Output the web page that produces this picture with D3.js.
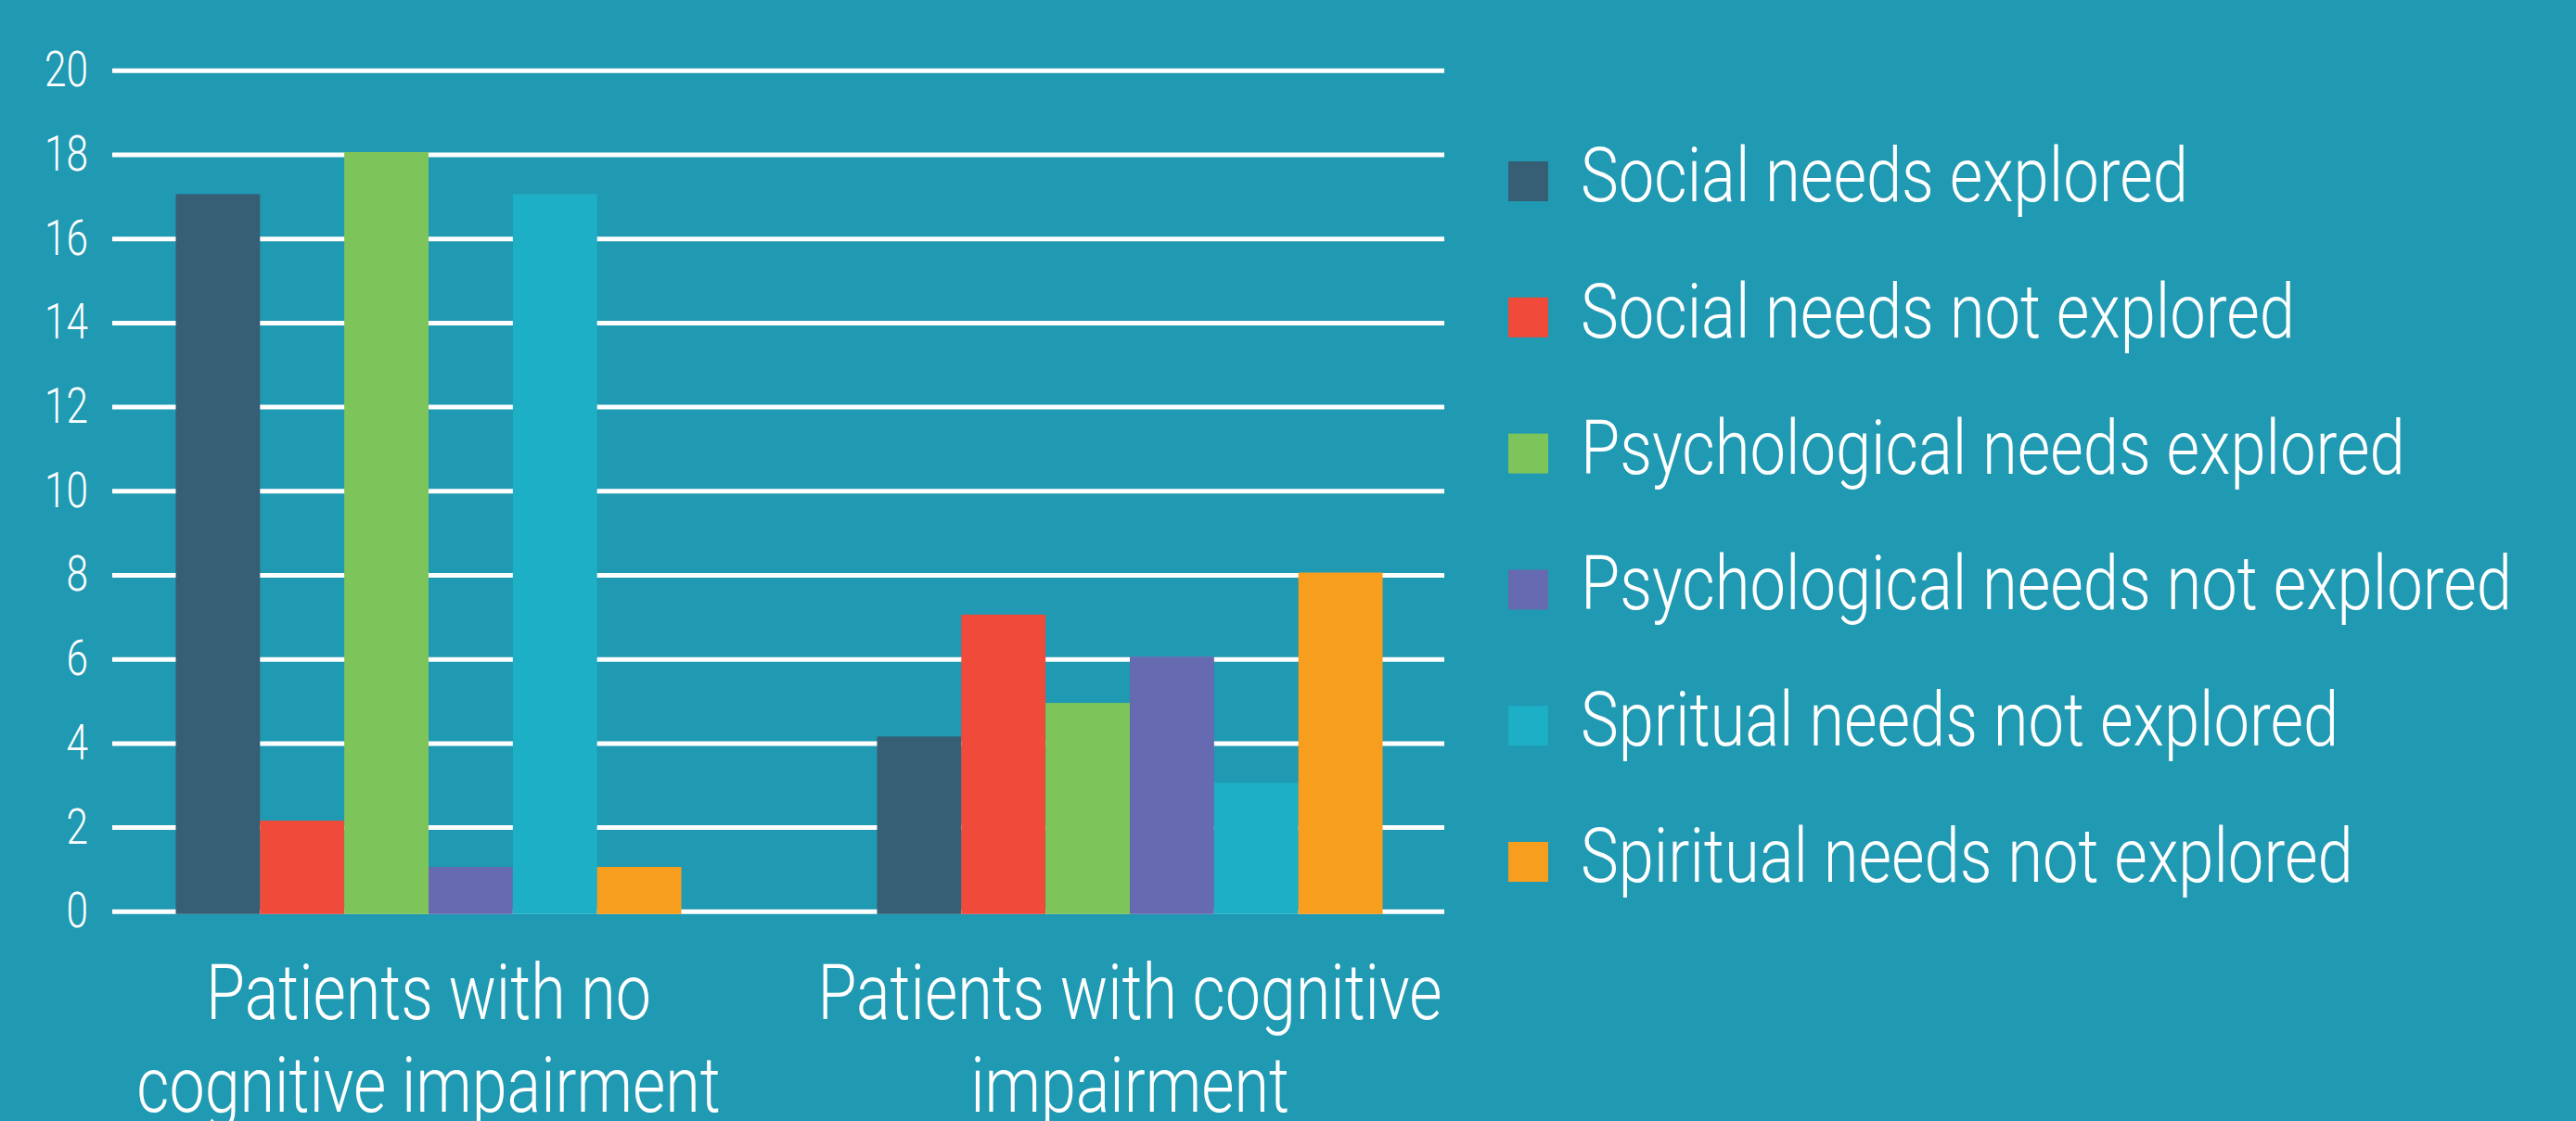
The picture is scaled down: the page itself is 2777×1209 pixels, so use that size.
<!DOCTYPE html>
<html>
<head>
<meta charset="utf-8">
<script src="https://cdn.jsdelivr.net/npm/d3@7"></script>
<style>
    html, body { margin: 0; padding: 0; background: #2099b2; }
    svg { display: block; }
    text { font-family: Roboto, "Liberation Sans", Arial, sans-serif; font-weight: 300; fill: #ffffff; }
</style>
</head>
<body>
<div id="chart"></div>
<script>
const categories = ["Patients with no cognitive impairment", "Patients with cognitive impairment"];
const categoryLines = [["Patients with no", "cognitive impairment"], ["Patients with cognitive", "impairment"]];
const seriesNames = [
    "Social needs explored",
    "Social needs not explored",
    "Psychological needs explored",
    "Psychological needs not explored",
    "Spritual needs not explored",
    "Spiritual needs not explored"
];
const seriesColors = ["#365f75", "#f04a3a", "#7dc45a", "#666ab0", "#1dafc6", "#f79e1f"];
const noImpairmentValues = [17, 2.1, 18, 1, 17, 1];
const withImpairmentValues = [4.1, 7, 4.9, 6, 3, 8];
const yTicks = [0, 2, 4, 6, 8, 10, 12, 14, 16, 18, 20];

// the original uses a light condensed face; squeeze what we have to the same widths
function squeeze(svg, sample, size, targetWidth) {
    var probe = svg.append("text").style("font-size", size + "px").text(sample);
    var len = probe.node().getComputedTextLength();
    probe.remove();
    return len > 0 ? targetWidth / len : 1;
}

function init() {
    var w = 2777;
    var h = 1209;

    var rows = [noImpairmentValues, withImpairmentValues];

    var svg = d3.select("#chart").append("svg")
        .attr("width", w)
        .attr("height", h);

    svg.append("rect")
        .attr("width", w)
        .attr("height", h)
        .attr("fill", "#2099b2");

    var tickScale = squeeze(svg, "20", 53, 47);
    var labelScale = squeeze(svg, "Patients with no", 83, 480);
    var legendScale = squeeze(svg, "Social needs explored", 81, 655);

    var y = d3.scaleLinear()
        .domain([0, 20])
        .range([982.8, 75.8]);

    var x0 = d3.scaleBand()
        .domain(categories)
        .range([84, 1596])
        .paddingInner(0.279)
        .paddingOuter(0.1395);

    var x1 = d3.scaleBand()
        .domain(seriesNames)
        .range([0, x0.bandwidth()]);

    var color = d3.scaleOrdinal()
        .domain(seriesNames)
        .range(seriesColors);

    // gridlines + tick labels
    var gridLeft = 121, gridRight = 1557;
    var yAxis = svg.append("g")
        .attr("class", "y-axis")
        .attr("transform", `translate(${gridLeft},0)`)
        .call(d3.axisLeft(y).tickValues(yTicks).tickSize(-(gridRight - gridLeft)).tickPadding(26));

    yAxis.select(".domain").remove();
    yAxis.selectAll(".tick line")
        .attr("stroke", "#ffffff")
        .attr("stroke-width", 5);
    yAxis.selectAll(".tick text")
        .style("font-family", null)
        .attr("font-family", null)
        .style("font-size", "53px")
        .attr("fill", "#ffffff")
        .attr("x", -26 / tickScale)
        .attr("transform", `scale(${tickScale},1)`);

    // bars
    var groups = svg.append("g")
        .selectAll("g")
        .data(categories)
        .join("g")
        .attr("transform", d => `translate(${x0(d)},0)`);

    groups.selectAll("rect")
        .data((d, i) => rows[i].map((v, j) => ({ key: seriesNames[j], value: v })))
        .join("rect")
        .attr("x", d => x1(d.key))
        .attr("width", x1.bandwidth())
        .attr("y", d => y(d.value) - 2.5)
        .attr("height", d => y(0) - y(d.value) + 5.5)
        .attr("fill", d => color(d.key));

    // category labels
    var xAxis = svg.append("g")
        .attr("class", "x-axis")
        .attr("transform", `translate(0,${y(0)})`)
        .attr("font-family", null)
        .call(d3.axisBottom(x0).tickSize(0));

    xAxis.select(".domain").remove();
    xAxis.attr("font-family", null).attr("font-size", null);
    xAxis.selectAll(".tick text").each(function (d, i) {
        var t = d3.select(this);
        t.text(null).attr("y", 0).attr("dy", null)
            .style("font-size", "83px")
            .attr("fill", "#ffffff")
            .attr("transform", `scale(${labelScale},1)`);
        categoryLines[i].forEach((line, k) => {
            t.append("tspan")
                .attr("x", 0)
                .attr("y", 116 + k * 100)
                .text(line);
        });
    });
    yAxis.attr("font-family", null).attr("font-size", null);

    // legend
    var legend = svg.append("g")
        .attr("class", "legend")
        .attr("transform", "translate(1626,174)");

    var items = legend.selectAll("g")
        .data(seriesNames)
        .join("g")
        .attr("transform", (d, i) => `translate(0,${i * 146.8})`);

    items.append("rect")
        .attr("width", 43)
        .attr("height", 43)
        .attr("fill", d => color(d));

    items.append("text")
        .attr("transform", `translate(78,43) scale(${legendScale},1)`)
        .style("font-size", "81px")
        .text(d => d);
}

window.onload = init;
</script>
</body>
</html>
